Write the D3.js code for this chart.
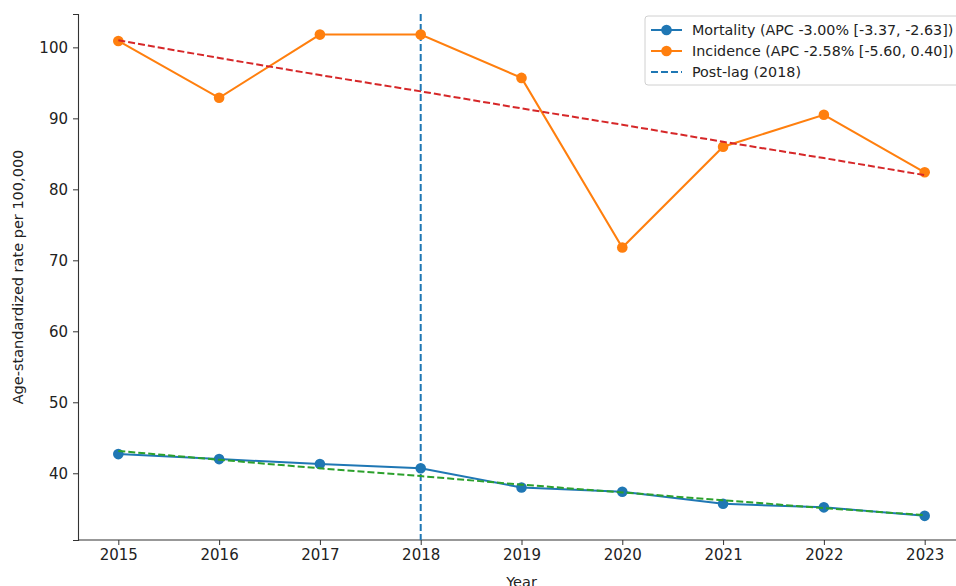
<!DOCTYPE html>
<html>
<head>
<meta charset="utf-8">
<script src="https://cdn.jsdelivr.net/npm/d3@7"></script>
<style>
  body { margin: 0; background: #fff; }
  svg { font-family: "DejaVu Sans", sans-serif; }
</style>
</head>
<body>
<div id="chart"></div>
<script>
// dades llegides del grafic
const years = [2015, 2016, 2017, 2018, 2019, 2020, 2021, 2022, 2023];
const mortality = [42.7, 42.0, 41.3, 40.7, 38.0, 37.4, 35.7, 35.2, 34.0];
const incidence = [100.9, 92.9, 101.8, 101.8, 95.7, 71.8, 86.0, 90.5, 82.4];
const mortalityTrend = [43.15, 41.9, 40.7, 39.6, 38.4, 37.3, 36.2, 35.1, 34.1];
const incidenceTrend = [101.0, 98.5, 96.1, 93.8, 91.4, 89.1, 86.7, 84.4, 82.0];
const lagYear = 2018;
const yTicks = [40, 50, 60, 70, 80, 90, 100];
const legendLabels = [
  "Mortality (APC -3.00% [-3.37, -2.63])",
  "Incidence (APC -2.58% [-5.60, 0.40])",
  "Post-lag (2018)"
];

const W = 956, H = 586;
const margin = {top: 14, right: -9, bottom: 46, left: 78};
const width = W - margin.left - margin.right;
const height = H - margin.top - margin.bottom;

const svg = d3.select("#chart").append("svg")
    .attr("width", W).attr("height", H);
const g = svg.append("g")
    .attr("transform", `translate(${margin.left},${margin.top})`);

// escales
const x = d3.scaleLinear().domain([2014.6, 2023.4]).range([0, width]);
const y = d3.scaleLinear().domain([30.6, 104.7]).range([height, 0]);

// eixos
const xAxis = g.append("g")
    .attr("transform", `translate(0,${height})`)
    .call(d3.axisBottom(x).tickValues(years).tickFormat(d3.format("d")).tickSizeOuter(0).tickSize(5).tickPadding(4));
const yAxis = g.append("g")
    .call(d3.axisLeft(y).tickValues(yTicks).tickSizeOuter(0).tickSize(5).tickPadding(5));
[xAxis, yAxis].forEach(a => {
  a.attr("font-size", null).attr("font-family", null);
  a.selectAll("text").style("font-size", "15px").attr("fill", "#222");
  a.select(".domain").attr("stroke", "#333").attr("stroke-width", 1.1);
  a.selectAll(".tick line").attr("stroke", "#333");
});
xAxis.select(".domain").attr("d", `M0,0H${width + 20}`);

// titols dels eixos
g.append("text")
    .attr("x", width / 2).attr("y", height + 47)
    .attr("text-anchor", "middle").style("font-size", "14.5px").attr("fill", "#222")
    .text("Year");
g.append("text")
    .attr("transform", `translate(${-55},${height / 2}) rotate(-90)`)
    .attr("text-anchor", "middle").style("font-size", "14.5px").attr("fill", "#222")
    .text("Age-standardized rate per 100,000");

const line = d3.line().x(d => x(d[0])).y(d => y(d[1]));

// linia vertical post-lag
g.append("line")
    .attr("x1", x(lagYear)).attr("x2", x(lagYear))
    .attr("y1", 0).attr("y2", height)
    .attr("stroke", "#1f77b4").attr("stroke-width", 2).attr("stroke-dasharray", "7,3");

// series
function series(vals, color) {
  const pts = years.map((yr, i) => [yr, vals[i]]);
  g.append("path").datum(pts).attr("d", line)
      .attr("fill", "none").attr("stroke", color).attr("stroke-width", 2);
  g.selectAll(null).data(pts).enter().append("circle")
      .attr("cx", d => x(d[0])).attr("cy", d => y(d[1])).attr("r", 5.3)
      .attr("fill", color);
}
function trend(vals, color) {
  const pts = years.map((yr, i) => [yr, vals[i]]);
  g.append("path").datum(pts).attr("d", line)
      .attr("fill", "none").attr("stroke", color).attr("stroke-width", 2)
      .attr("stroke-dasharray", "7,3");
}

series(mortality, "#1f77b4");
series(incidence, "#ff7f0e");
trend(incidenceTrend, "#d62728");
trend(mortalityTrend, "#2ca02c");

// llegenda
const lg = svg.append("g").attr("transform", "translate(645,16)");
lg.append("rect").attr("width", 330).attr("height", 69).attr("rx", 3)
    .attr("fill", "#fff").attr("fill-opacity", 0.8).attr("stroke", "#d0d0d0");
const legendColors = ["#1f77b4", "#ff7f0e", "#1f77b4"];
legendLabels.forEach((lab, i) => {
  const ry = 14 + i * 21;
  const row = lg.append("g").attr("transform", `translate(0,${ry})`);
  row.append("line").attr("x1", 6).attr("x2", 37).attr("y1", 0).attr("y2", 0)
      .attr("stroke", legendColors[i]).attr("stroke-width", 2)
      .attr("stroke-dasharray", i === 2 ? "7,3" : null);
  if (i < 2) row.append("circle").attr("cx", 21.5).attr("cy", 0).attr("r", 5.3).attr("fill", legendColors[i]);
  row.append("text").attr("x", 47).attr("y", 0).attr("dy", "0.35em")
      .style("font-size", "14.3px").attr("fill", "#222").text(lab);
});
</script>
</body>
</html>
